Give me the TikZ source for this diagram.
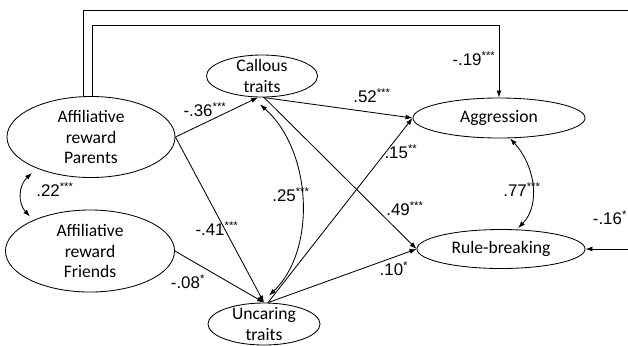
\documentclass[tikz,border=0pt]{standalone}
\usepackage{fontspec}
\setmainfont{Carlito}
\newfontfamily\coeffont{Liberation Sans}
\usetikzlibrary{shapes.geometric, arrows.meta, calc}

\newcommand{\stars}[1]{\textsuperscript{#1}}

\tikzset{
    latent/.style={draw, ellipse, inner sep=0pt,
        label={[align=center, font=\fontsize{12.5}{14.5}\selectfont]center:#1}},
    coef/.style={inner sep=0pt, anchor=mid, font=\coeffont\fontsize{12}{14}\selectfont},
    reg/.style={-{Latex[length=5pt, width=3.5pt]}},
    cov/.style={{Latex[length=5pt, width=3.5pt]}-{Latex[length=5pt, width=3.5pt]}}
}

\begin{document}
\begin{tikzpicture}[x=0.025cm, y=0.025cm, line width=0.6pt]
        \useasboundingbox (0,0) rectangle (628,345);

        % latent variables
        \node[latent={Affiliative\\reward\\Parents}, minimum width=4.2cm, minimum height=2.025cm] (arp) at (91,208) {};
        \node[latent={Affiliative\\reward\\Friends}, minimum width=4.225cm, minimum height=2.05cm] (arf) at (90,94) {};
        \node[latent={Callous\\traits}, minimum width=2.775cm, minimum height=1.05cm] (callous) at (262,269) {};
        \node[latent={Uncaring\\traits}, minimum width=2.8cm, minimum height=1.05cm] (uncaring) at (264,21) {};
        \node[latent={Aggression}, minimum width=4.3cm, minimum height=1cm] (aggr) at (499,227) {};
        \node[latent={Rule-breaking}, minimum width=4.2cm, minimum height=0.975cm] (rule) at (501,96) {};

        \coordinate (corner) at (629,335);
        \coordinate (elbow) at (499,320);

        % paths
        \draw[reg] (arp.east) -- ([shift={(-4,0)}]callous.south);
        \draw[reg] (arp.east) -- (uncaring.north);
        \draw[reg] (arf.east) -- (uncaring.north);
        \draw[reg] ([shift={(1,0)}]callous.south) -- (aggr.west);
        \draw[reg] ([shift={(2,0)}]callous.south) -- (rule.west);
        \draw[reg] ([shift={(4,0)}]uncaring.north) -- (aggr.west);
        \draw[reg] ([shift={(4,0)}]uncaring.north) -- (rule.west);
        \draw[reg] ([xshift=-0.2cm]arp.north) |- (corner) |- (rule.east);
        \draw[reg] ([xshift=0.025cm]arp.north) |- (elbow) -- (aggr.north);

        % covariances
        \draw[cov] ([shift={(-59,5)}]arp.south) .. controls +(-14,-13) and +(-12,13) .. ([shift={(-60,-7)}]arf.north);
        \draw[cov] ([shift={(-2,-7)}]callous.south) .. controls +(52,-46) and +(48,46) .. ([shift={(5,7)}]uncaring.north);
        \draw[cov] ([shift={(11,0)}]aggr.south) .. controls +(25,-27) and +(23,23) .. ([shift={(17,1)}]rule.north);

        % estimates
        \node[coef] (b36) at (205,232) {-.36\stars{***}};
        \node[coef] (b41) at (217,113) {-.41\stars{***}};
        \node[coef] (b08) at (188,60) {-.08\stars{*}};
        \node[coef] (r22) at (55,152) {.22\stars{***}};
        \node[coef] (r25) at (291,147) {.25\stars{***}};
        \node[coef] (b52) at (372,246) {.52\stars{***}};
        \node[coef] (b15) at (401,190) {.15\stars{**}};
        \node[coef] (b49) at (405,133) {.49\stars{***}};
        \node[coef] (b10) at (394,73) {.10\stars{*}};
        \node[coef] (r77) at (522,152) {.77\stars{***}};
        \node[coef] (b16) at (610,124) {-.16\stars{*}};
        \node[coef] (b19) at (474,283) {-.19\stars{***}};
\end{tikzpicture}
\end{document}
